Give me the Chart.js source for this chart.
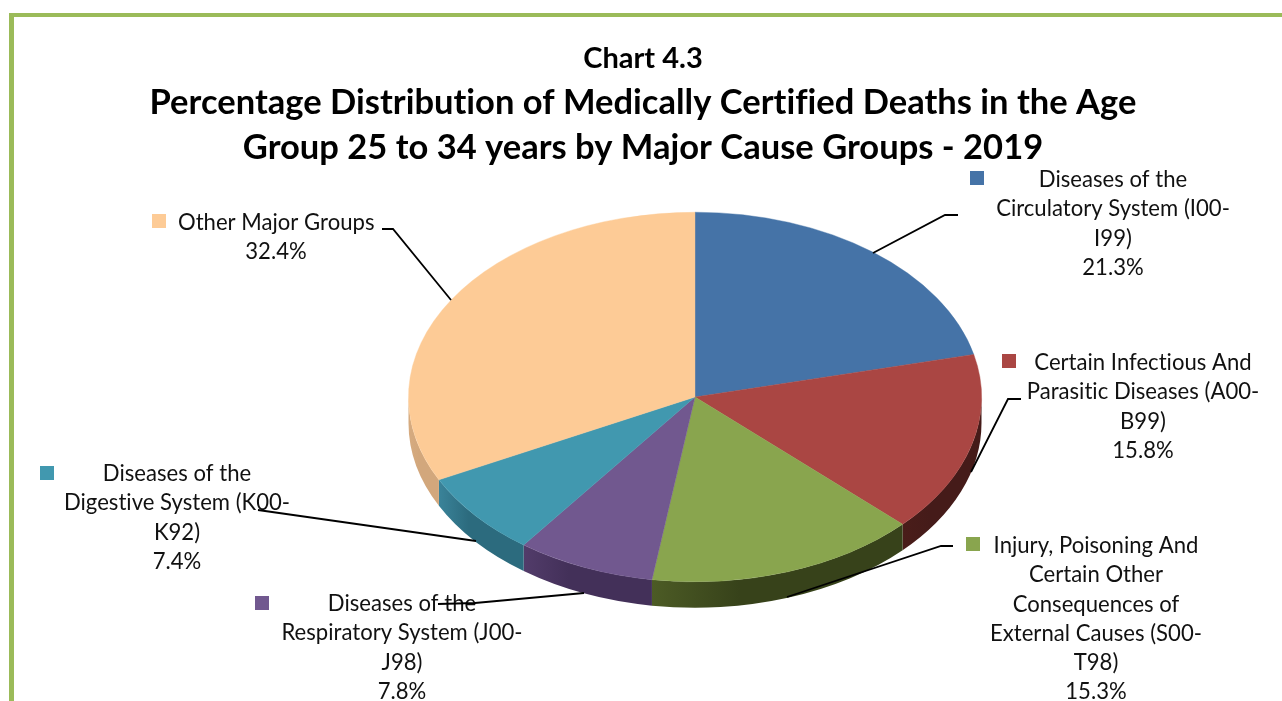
<!DOCTYPE html>
<html>
<head>
<meta charset="utf-8">
<script src="https://cdn.jsdelivr.net/npm/chart.js@4"></script>
<style>
html,body{margin:0;padding:0;background:#fff;overflow:hidden}
#wrap{position:relative;width:1282px;height:701px}
#frame{position:absolute;left:9px;top:13px;right:0;bottom:0;border-left:5px solid #9BBB59;border-top:4px solid #9BBB59;box-sizing:border-box}
canvas{position:absolute;left:0;top:0}
</style>
</head>
<body>
<div id="wrap"><div id="frame"></div><canvas id="c" width="1282" height="701"></canvas></div>
<script>
const titleLine = 'Chart 4.3';
const subtitleLines = ['Percentage Distribution of Medically Certified Deaths in the Age','Group 25 to 34 years by Major Cause Groups - 2019'];
const categories = [
  'Diseases of the Circulatory System (I00-I99)',
  'Certain Infectious And Parasitic Diseases (A00-B99)',
  'Injury, Poisoning And Certain Other Consequences of External Causes (S00-T98)',
  'Diseases of the Respiratory System (J00-J98)',
  'Diseases of the Digestive System (K00-K92)',
  'Other Major Groups'
];
const values = [21.3, 15.8, 15.3, 7.8, 7.4, 32.4];
const labelLines = [
  ['Diseases of the','Circulatory System (I00-','I99)'],
  ['Certain Infectious And','Parasitic Diseases (A00-','B99)'],
  ['Injury, Poisoning And','Certain Other','Consequences of','External Causes (S00-','T98)'],
  ['Diseases of the','Respiratory System (J00-','J98)'],
  ['Diseases of the','Digestive System (K00-','K92)'],
  ['Other Major Groups']
];
const colors = ['#4573A7','#AA4643','#89A54E','#71588F','#4198AF','#FDCB96'];
const sideColors = [
  ['#2c4a6e','#2c4a6e'],['#4a1d1a','#451b19'],['#4c5b25','#37421a'],
  ['#523c6a','#433059'],['#3a8399','#2c6b7e'],['#d6ab80','#d2a77c']
];
// layout of the label blocks: text centre x, first line y, marker x,y
const labelBoxes = [
  {cx:1113,y:180,mx:970,my:171},
  {cx:1143,y:363,mx:1002,my:354},
  {cx:1096,y:546,mx:966,my:537},
  {cx:402,y:604,mx:255,my:596},
  {cx:177,y:474,mx:40,my:466},
  {cx:276,y:223,mx:152,my:214,left:178}
];
const leaders = [
  [[958,215],[945,215],[873,253]],
  [[1021,399],[1008,399],[971,472]],
  [[953,546],[941,546],[787,597]],
  [[438,604],[475,603],[584,593]],
  [[258,510],[476,541]],
  [[382,229],[393,229],[451,300]]
];
const PIE = {cx:695, cy:397, r:286.5, tilt:0.645, depth:26};
const FONT = 'Lato, "Open Sans", sans-serif';
const LABEL_SIZE = 22.1, LINE_H = 29.2;

function pieTransform(ctx, arc){
  ctx.translate(PIE.cx, PIE.cy);
  ctx.scale(1, PIE.tilt);
  ctx.translate(-arc.x, -arc.y);
}
const pie3d = {
  id:'pie3d',
  beforeDraw(chart){ if('letterSpacing' in chart.ctx) chart.ctx.letterSpacing = '0.01px'; },
  beforeDatasetDraw(chart){
    const ctx = chart.ctx, arcs = chart.getDatasetMeta(0).data;
    ctx.save();
    pieTransform(ctx, arcs[0]);
    const d = PIE.depth / PIE.tilt;
    arcs.forEach((a,i)=>{
      const s0 = a.startAngle, s1 = a.endAngle;
      [[0,Math.PI],[2*Math.PI,3*Math.PI]].forEach(([lo,hi])=>{
        const a0 = Math.max(s0,lo), a1 = Math.min(s1,hi);
        if(a1<=a0) return;
        const xr = a.x + a.outerRadius*Math.cos(a1), xl = a.x + a.outerRadius*Math.cos(a0);
        const g = ctx.createLinearGradient(Math.min(xr,xl),0,Math.max(xr,xl),0);
        g.addColorStop(0, sideColors[i][0]);
        g.addColorStop(0.35, sideColors[i][1]);
        g.addColorStop(1, sideColors[i][1]);
        ctx.beginPath();
        ctx.arc(a.x,a.y,a.outerRadius,a0,a1);
        ctx.arc(a.x,a.y+d,a.outerRadius,a1,a0,true);
        ctx.closePath();
        ctx.fillStyle = g;
        ctx.fill();
      });
    });
  },
  afterDatasetDraw(chart){ chart.ctx.restore(); },
  afterDraw(chart){
    const ctx = chart.ctx;
    ctx.save();
    ctx.font = LABEL_SIZE+'px '+FONT;
    ctx.textAlign = 'center';
    ctx.textBaseline = 'middle';
    labelBoxes.forEach((b,i)=>{
      ctx.fillStyle = colors[i];
      ctx.fillRect(b.mx,b.my,14,14);
      ctx.fillStyle = '#111';
      const lines = labelLines[i].concat(values[i].toFixed(1)+'%');
      lines.forEach((t,k)=>{
        let cx = b.cx;
        if(b.left && k===0) cx = b.left + ctx.measureText(t).width/2;
        ctx.fillText(t,cx,b.y+k*LINE_H);
      });
    });
    ctx.strokeStyle = '#000';
    ctx.lineWidth = 1.8;
    leaders.forEach(p=>{
      ctx.beginPath();
      p.forEach(([x,y],k)=>k?ctx.lineTo(x,y):ctx.moveTo(x,y));
      ctx.stroke();
    });
    ctx.restore();
  }
};
new Chart(document.getElementById('c'),{
  type:'pie',
  data:{labels:categories,datasets:[{data:values,backgroundColor:colors,borderColor:colors,borderWidth:0.5,radius:PIE.r,clip:false}]},
  options:{
    responsive:false,animation:false,
    layout:{padding:{left:4}},
    plugins:{
      legend:{display:false},tooltip:{enabled:false},
      title:{display:true,text:titleLine,color:'#000',font:{family:FONT,size:29,weight:'bold'},padding:{top:41,bottom:5}},
      subtitle:{display:true,text:subtitleLines,color:'#000',font:{family:FONT,size:34.5,weight:'bold',lineHeight:1.3},padding:{top:0,bottom:0}}
    }
  },
  plugins:[pie3d]
});
</script>
</body>
</html>
